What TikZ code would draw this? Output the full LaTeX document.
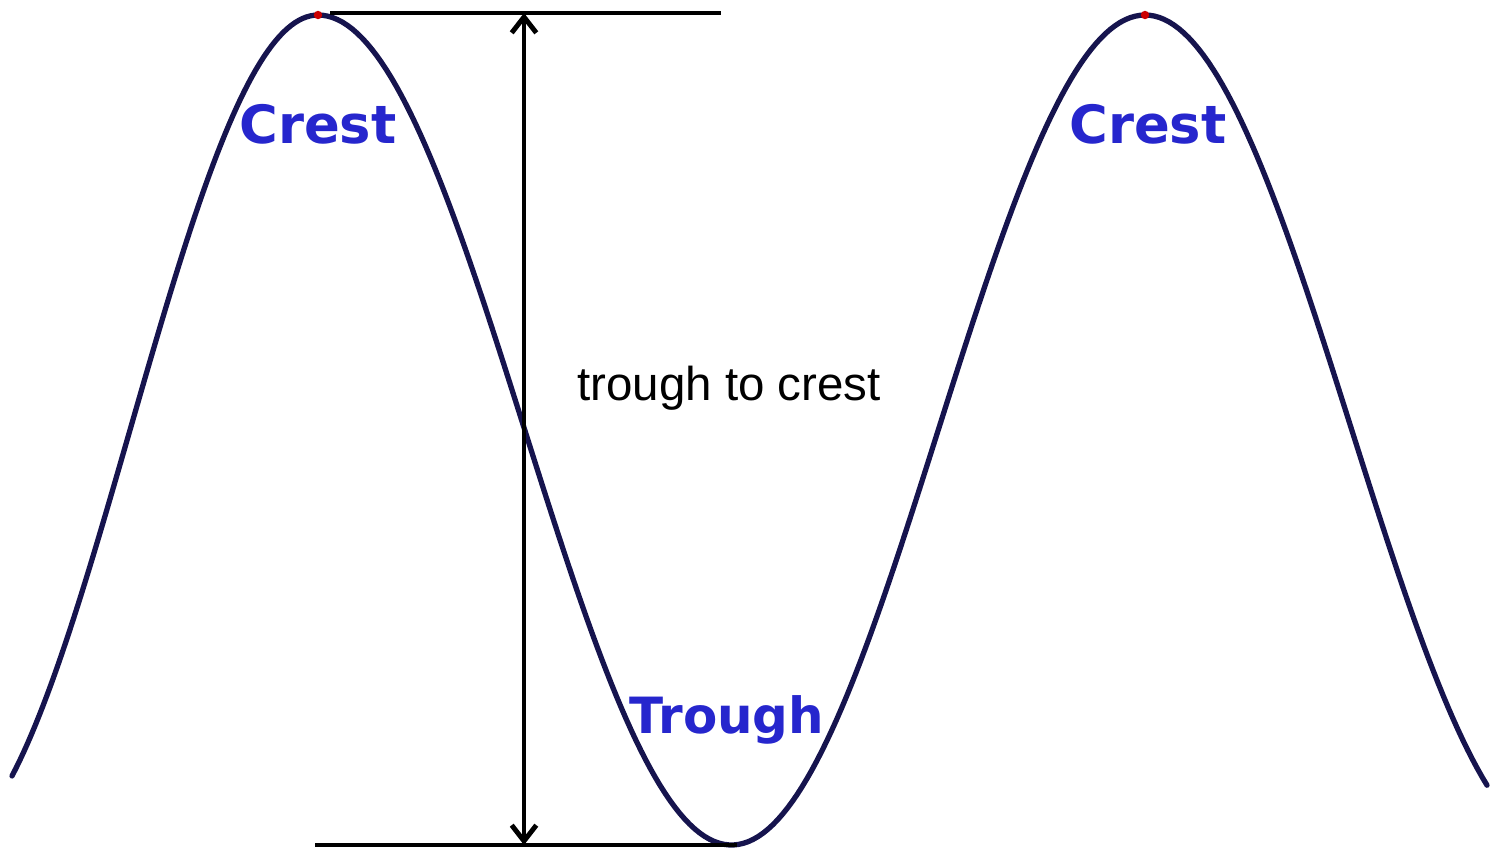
\documentclass[tikz,border=0pt]{standalone}
\usepackage{fontspec}
\setmainfont{Liberation Sans}
\newfontfamily\gras{DejaVu Sans}
\usetikzlibrary{arrows.meta}
\definecolor{marine}{RGB}{22,20,78}
\definecolor{bleulabel}{RGB}{38,38,205}
\begin{document}
\begin{tikzpicture}[x=0.01cm, y=-0.01cm,
  onde/.style={color=marine, line width=1.5pt, line cap=round},
  repere/.style={black, line width=1.4pt},
  etiquette/.style={text=bleulabel, font=\gras\bfseries\fontsize{15}{18}\selectfont, anchor=base, inner sep=0pt},
  texte/.style={text=black, font=\fontsize{13.5}{16}\selectfont, anchor=base, inner sep=0pt}]
  \useasboundingbox (0,0) rectangle (1500,854);

  % Onde
  \draw[onde] plot[domain=12:318, samples=80] (\x, {15+415*(1-cos((318-\x)*0.47872))})
    -- plot[domain=318:1487, samples=240] (\x, {15+415*(1-cos((\x-318)*0.43531))});

  % Sommets
  \fill[red!80!black] (318,15) circle (1.2pt);
  \fill[red!80!black] (1145,15) circle (1.2pt);

  % Niveaux
  \coordinate (hautG) at (330,13);
  \coordinate (hautD) at (721,13);
  \coordinate (basG) at (315,845);
  \coordinate (basD) at (737,845);
  \coordinate (flecheH) at (524,13);
  \coordinate (flecheB) at (524,845);
  \draw[repere] (hautG) -- (hautD);
  \draw[repere] (basG) -- (basD);
  \draw[repere, {Straight Barb[length=4.5pt,width=7pt]}-{Straight Barb[length=4.5pt,width=7pt]}] (flecheH) -- (flecheB);

  % Textes
  \node[etiquette] (crest1) at (318,143) {Crest};
  \node[etiquette] (crest2) at (1148,143) {Crest};
  \node[etiquette, font=\gras\bfseries\fontsize{14.2}{17}\selectfont] (trough) at (727,733) {Trough};
  \node[texte] (amplitude) at (729,400) {trough to crest};
\end{tikzpicture}
\end{document}
